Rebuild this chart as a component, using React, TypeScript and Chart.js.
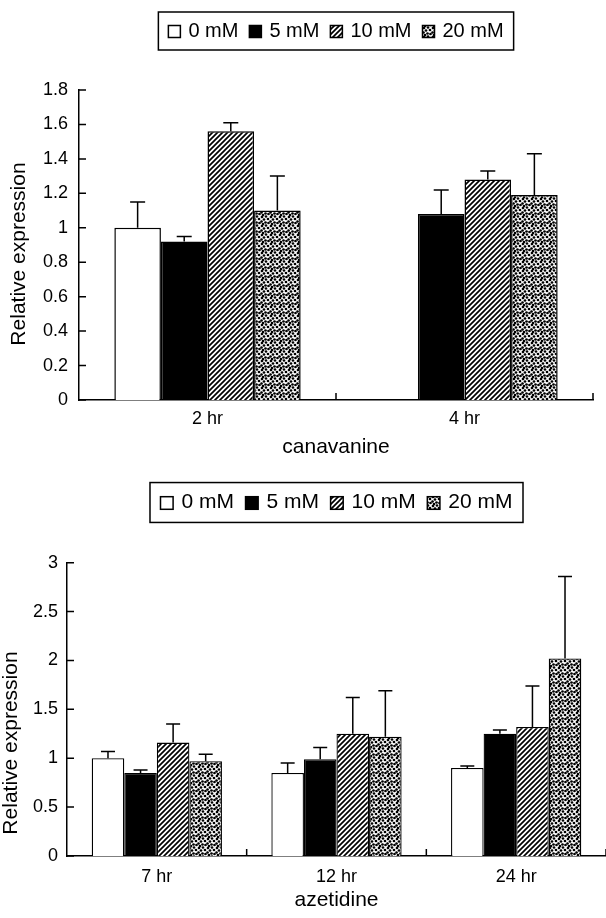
import React, { useEffect, useRef } from 'react';
import { Chart, registerables } from 'chart.js';

Chart.register(...registerables);

const FONT = '"Liberation Sans", Arial, Helvetica, sans-serif';

// ---------- data ----------
const seriesLabels = ['0 mM', '5 mM', '10 mM', '20 mM'];

const canCategories = ['2 hr', '4 hr'];
const can0 = [1.0, null];
const can0Err = [0.15, null];
const can5 = [0.92, 1.08];
const can5Err = [0.03, 0.14];
const can10 = [1.56, 1.28];
const can10Err = [0.05, 0.05];
const can20 = [1.1, 1.19];
const can20Err = [0.2, 0.24];
const canYTicks = [0, 0.2, 0.4, 0.6, 0.8, 1, 1.2, 1.4, 1.6, 1.8];
const canXTitle = 'canavanine';

const azeCategories = ['7 hr', '12 hr', '24 hr'];
const aze0 = [1.0, 0.85, 0.9];
const aze0Err = [0.07, 0.1, 0.02];
const aze5 = [0.85, 0.99, 1.25];
const aze5Err = [0.03, 0.12, 0.04];
const aze10 = [1.16, 1.25, 1.32];
const aze10Err = [0.19, 0.37, 0.42];
const aze20 = [0.97, 1.22, 2.02];
const aze20Err = [0.07, 0.47, 0.84];
const azeYTicks = [0, 0.5, 1, 1.5, 2, 2.5, 3];
const azeXTitle = 'azetidine';

const yTitleText = 'Relative expression';

// ---------- patterns ----------
function makeHatch(): CanvasPattern | string {
  const s = 5;
  const c = document.createElement('canvas');
  c.width = s; c.height = s;
  const g = c.getContext('2d');
  if (!g) return '#666';
  g.fillStyle = '#fff';
  g.fillRect(0, 0, s, s);
  g.strokeStyle = '#000';
  g.lineWidth = 1.7;
  g.beginPath();
  g.moveTo(-1, s + 1); g.lineTo(s + 1, -1);
  g.moveTo(-1, 1); g.lineTo(1, -1);
  g.moveTo(s - 1, s + 1); g.lineTo(s + 1, s - 1);
  g.stroke();
  return g.createPattern(c, 'repeat') || '#666';
}

const stippleDots = [
  [1, 1], [5, 0.5], [3, 3.5], [7, 3], [0.5, 5.5], [4.5, 6.5], [7.5, 7], [2, 8],
];

function makeStipple(): CanvasPattern | string {
  const s = 9;
  const c = document.createElement('canvas');
  c.width = s; c.height = s;
  const g = c.getContext('2d');
  if (!g) return '#888';
  g.fillStyle = '#fff';
  g.fillRect(0, 0, s, s);
  g.fillStyle = '#000';
  for (const [x, y] of stippleDots) {
    for (const dx of [-s, 0, s]) {
      for (const dy of [-s, 0, s]) {
        g.beginPath();
        g.arc(x + dx, y + dy, 1.35, 0, Math.PI * 2);
        g.fill();
      }
    }
  }
  return g.createPattern(c, 'repeat') || '#888';
}

// ---------- plugins ----------
const errorBarsPlugin = {
  id: 'errorBars',
  afterDatasetsDraw(chart: any, _args: any, opts: any) {
    const ctx = chart.ctx;
    const ys = chart.scales.y;
    ctx.save();
    ctx.strokeStyle = '#000';
    ctx.lineWidth = opts.lineWidth || 1.5;
    chart.data.datasets.forEach((ds: any, di: number) => {
      const meta = chart.getDatasetMeta(di);
      (ds.errors || []).forEach((e: number | null, i: number) => {
        const v = ds.data[i];
        if (v == null || e == null) return;
        const bar = meta.data[i];
        if (!bar) return;
        const x = bar.x;
        const y0 = ys.getPixelForValue(v);
        const y1 = ys.getPixelForValue(v + e);
        const hw = (opts.cap || 14) / 2;
        ctx.beginPath();
        ctx.moveTo(x, y0);
        ctx.lineTo(x, y1);
        ctx.moveTo(x - hw, y1);
        ctx.lineTo(x + hw, y1);
        ctx.stroke();
      });
    });
    ctx.restore();
  },
};

const innerTicksPlugin = {
  id: 'innerTicks',
  afterDraw(chart: any, _args: any, opts: any) {
    const ctx = chart.ctx;
    const { left, bottom } = chart.chartArea;
    const len = opts.length || 7;
    const xs = chart.scales.x;
    const ys = chart.scales.y;
    ctx.save();
    ctx.strokeStyle = '#000';
    ctx.lineWidth = 1.5;
    ctx.beginPath();
    ys.ticks.forEach((t: any) => {
      const py = ys.getPixelForValue(t.value);
      ctx.moveTo(left, py);
      ctx.lineTo(left + len, py);
    });
    const n = chart.data.labels.length;
    for (let i = 1; i <= n; i++) {
      const px = xs.getPixelForValue(i - 0.5);
      ctx.moveTo(px, bottom);
      ctx.lineTo(px, bottom - len);
    }
    ctx.stroke();
    ctx.restore();
  },
};

const boxLegendPlugin = {
  id: 'boxLegend',
  afterDraw(chart: any, _args: any, opts: any) {
    const ctx = chart.ctx;
    const size = opts.size || 20;
    const s = size / 20;
    const sq = 12 * s, gapT = 8 * s, itemGap = 11 * s, pad = 10 * s, h = 38 * s;
    const cx = (chart.chartArea.left + chart.chartArea.right) / 2;
    const cy = opts.cy;
    ctx.save();
    ctx.font = `${size}px ${FONT}`;
    const ds = chart.data.datasets;
    const widths = ds.map((d: any) => ctx.measureText(d.label).width);
    let total = 2 * pad + itemGap * (ds.length - 1);
    widths.forEach((w: number) => { total += sq + gapT + w; });
    const left = cx - total / 2;
    ctx.strokeStyle = '#000';
    ctx.lineWidth = 1.5;
    ctx.strokeRect(left, cy - h / 2, total, h);
    let x = left + pad;
    ds.forEach((d: any, i: number) => {
      ctx.fillStyle = d.backgroundColor;
      ctx.fillRect(x, cy - sq / 2 + 0.5, sq, sq);
      ctx.lineWidth = 1.5;
      ctx.strokeRect(x, cy - sq / 2 + 0.5, sq, sq);
      ctx.fillStyle = '#000';
      ctx.textBaseline = 'middle';
      ctx.textAlign = 'left';
      ctx.fillText(d.label, x + sq + gapT, cy);
      x += sq + gapT + widths[i] + itemGap;
    });
    ctx.restore();
  },
};

const yTitlePlugin = {
  id: 'yTitle',
  afterDraw(chart: any, _args: any, opts: any) {
    const ctx = chart.ctx;
    ctx.save();
    ctx.translate(opts.x, opts.y);
    ctx.rotate(-Math.PI / 2);
    ctx.font = `${opts.size || 21}px ${FONT}`;
    ctx.fillStyle = '#000';
    ctx.textAlign = 'center';
    ctx.textBaseline = 'middle';
    ctx.fillText(opts.text, 0, 0);
    ctx.restore();
  },
};

function buildDatasets(values: any[][], errors: any[][], fills: any[], bw: number) {
  return values.map((vals, i) => ({
    label: seriesLabels[i],
    data: vals,
    errors: errors[i],
    backgroundColor: fills[i],
    borderColor: '#000',
    borderWidth: bw,
    categoryPercentage: 0.725,
    barPercentage: 1.0,
  }));
}

function makeConfig(p: {
  labels: string[]; values: any[][]; errors: any[][]; fills: any[];
  yTicks: number[]; xTitle: string; padTop: number; padRight: number;
  yWidth: number; xHeight: number; xTickPad: number; yTickPad: number;
  xTitlePad: number; legendCy: number; legendSize: number;
  yTitleX: number; yTitleY: number; cap: number; bw: number;
}) {
  const yMax = p.yTicks[p.yTicks.length - 1];
  return {
    type: 'bar' as const,
    data: {
      labels: p.labels,
      datasets: buildDatasets(p.values, p.errors, p.fills, p.bw),
    },
    options: {
      responsive: false,
      animation: false as const,
      layout: { padding: { top: p.padTop, right: p.padRight, left: 0, bottom: 0 } },
      plugins: {
        legend: { display: false },
        tooltip: { enabled: false },
        errorBars: { cap: p.cap, lineWidth: 1.5 },
        innerTicks: { length: 7 },
        boxLegend: { cy: p.legendCy, size: p.legendSize },
        yTitle: { text: yTitleText, x: p.yTitleX, y: p.yTitleY, size: 21 },
      },
      scales: {
        x: {
          grid: { display: false, drawTicks: false },
          border: { display: true, color: '#000', width: 1.5 },
          ticks: { color: '#000', font: { family: FONT, size: 18 }, padding: p.xTickPad },
          title: {
            display: true, text: p.xTitle, color: '#000',
            font: { family: FONT, size: 21, lineHeight: 1 },
            padding: { top: 0, bottom: p.xTitlePad },
          },
          afterFit: (s: any) => { s.height = p.xHeight; },
        },
        y: {
          min: 0,
          max: yMax,
          grid: { display: false, drawTicks: false },
          border: { display: true, color: '#000', width: 1.5 },
          ticks: {
            color: '#000',
            font: { family: FONT, size: 18 },
            padding: p.yTickPad,
            callback: (v: any) => String(Math.round(Number(v) * 100) / 100),
          },
          afterBuildTicks: (s: any) => { s.ticks = p.yTicks.map((v) => ({ value: v })); },
          afterFit: (s: any) => { s.width = p.yWidth; },
        },
      },
    },
    plugins: [errorBarsPlugin, innerTicksPlugin, boxLegendPlugin, yTitlePlugin],
  };
}

export default function App() {
  const topRef = useRef<HTMLCanvasElement>(null);
  const botRef = useRef<HTMLCanvasElement>(null);

  useEffect(() => {
    if (!topRef.current || !botRef.current) return;
    const hatch = makeHatch();
    const stipple = makeStipple();
    const fills = ['#ffffff', '#000000', hatch, stipple];

    const top = new Chart(topRef.current, makeConfig({
      labels: canCategories,
      values: [can0, can5, can10, can20],
      errors: [can0Err, can5Err, can10Err, can20Err],
      fills,
      yTicks: canYTicks,
      xTitle: canXTitle,
      padTop: 90, padRight: 13, yWidth: 79, xHeight: 60,
      xTickPad: 8, yTickPad: 11, xTitlePad: 2,
      legendCy: 31, legendSize: 20,
      yTitleX: 19.7, yTitleY: 254, cap: 15, bw: 1.5,
    }) as any);

    const bot = new Chart(botRef.current, makeConfig({
      labels: azeCategories,
      values: [aze0, aze5, aze10, aze20],
      errors: [aze0Err, aze5Err, aze10Err, aze20Err],
      fills,
      yTicks: azeYTicks,
      xTitle: azeXTitle,
      padTop: 102.7, padRight: 0, yWidth: 67, xHeight: 62,
      xTickPad: 10, yTickPad: 9, xTitlePad: 7,
      legendCy: 42.5, legendSize: 21,
      yTitleX: 11, yTitleY: 283, cap: 14, bw: 1.3,
    }) as any);

    return () => { top.destroy(); bot.destroy(); };
  }, []);

  return (
    <div style={{ position: 'absolute', left: 0, top: 0, width: 606, height: 918, background: '#fff' }}>
      <canvas ref={topRef} width={606} height={460} style={{ display: 'block', width: 606, height: 460 }} />
      <canvas ref={botRef} width={606} height={458} style={{ display: 'block', width: 606, height: 458 }} />
    </div>
  );
}
